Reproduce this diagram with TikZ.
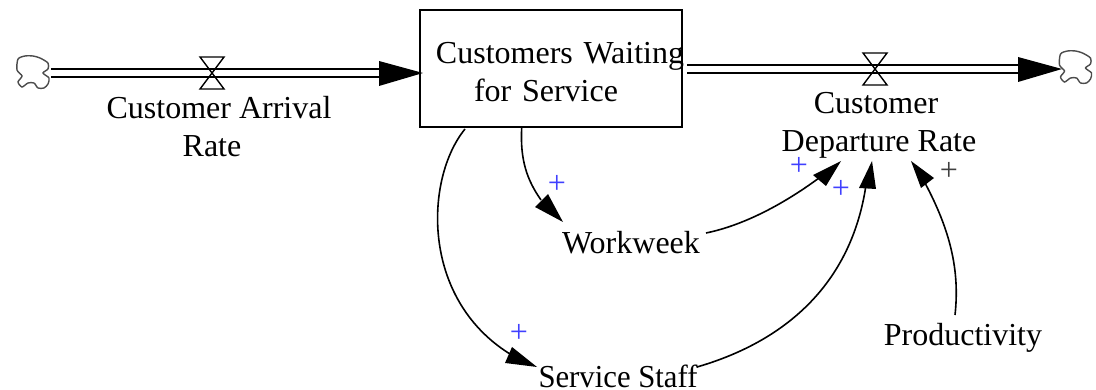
\documentclass[tikz,border=0pt]{standalone}
\usepackage{fontspec}
\setmainfont{Liberation Serif}
\usetikzlibrary{arrows.meta}
\tikzset{
  x=1pt,y=-1pt,
  lbl/.style={font=\fontsize{32}{38}\selectfont,align=center,inner sep=0pt,text=black},
  plus/.style={font=\fontsize{32}{32}\selectfont,inner sep=0pt,text=#1},
  plus/.default={blue!75!white},
  stockbox/.style={draw=black,line width=1.8pt,minimum width=262pt,minimum height=117pt,text width=262pt,inner sep=0pt,align=center,font=\fontsize{32}{38}\selectfont},
  pipe/.style={draw=black,line width=1.6pt},
  valveshape/.style={draw=black,line width=1.4pt},
  cloudline/.style={draw=black!70,line width=1.4pt,fill=white},
  link/.style={draw=black,line width=1.6pt},
  head/.style={fill=black,draw=none},
}
\begin{document}
\begin{tikzpicture}
\useasboundingbox (0,0) rectangle (1096,390);
\fill[white] (0,0) rectangle (1096,390);
\node[stockbox] (stock) at (551,68.5) {\rule{0pt}{28pt}\makebox[0pt]{\hspace{18pt}Customers Waiting}\\\makebox[0pt]{for Service\hspace{10pt}}};
\node[lbl] (arrlbl) at (219,126.5) {Customer Arrival\\Rate\hspace*{14pt}};
\node[lbl] (deplbl) at (879,125) {Customer\hspace*{6pt}\\Departure Rate};
\node[lbl] (work) at (631,243) {Workweek};
\node[lbl] (staff) at (618,376.5) {\scalebox{0.96}[1]{Service Staff}};
\node[lbl] (prod) at (963,338) {Productivity};
\node[plus] (p1) at (557,184) {+};
\node[plus] (p2) at (519,333) {+};
\node[plus] (p3) at (799,166) {+};
\node[plus] (p4) at (841,189) {+};
\node[plus=black!75] (p5) at (949,171) {+};
% clouds
\foreach \n/\cx/\cy in {c1/33/72,c2/1075.5/67}{
  \coordinate (\n) at (\cx,\cy);
  \draw[cloudline,shift={(\n)}] plot[smooth cycle,tension=0.45] coordinates {(-15,-13) (-8,-16) (0,-16) (7,-14) (15,-9) (15,-3) (10,1) (16,6) (15,12) (11,16) (5,16) (1,11) (-5,11) (-11,15) (-15,10) (-11,4) (-16,-2)};
}
% flows
\coordinate (v1) at (212,73);
\coordinate (v2) at (875,69);
\draw[pipe] (51,69) -- (381,69) (51,77) -- (381,77);
\draw[pipe] (687,65) -- (1020,65) (687,73) -- (1020,73);
\fill[head] (379,61) -- (423,73) -- (379,86) -- cycle;
\fill[head] (1018,57) -- (1062,69) -- (1018,82) -- cycle;
\foreach \v in {v1,v2}{
  \draw[valveshape,shift={(\v)}] (-12,-16) -- (12,-16) -- (-12,16) -- (12,16) -- cycle;
}
% links
\coordinate (a1) at (521.7,128);
\draw[link] (a1) .. controls (520,160) and (527,180) .. (541,200);
\fill[head] (563,222) -- (535,207) -- (548,194) -- cycle;
\coordinate (a2) at (465,129);
\draw[link] (a2) .. controls (425,178) and (420,298) .. (510,354);
\fill[head] (537,367) -- (505,363) -- (512,347) -- cycle;
\coordinate (a3) at (706,233);
\draw[link] (a3) .. controls (745,225) and (785,203) .. (819,178);
\fill[head] (841,161) -- (826,186) -- (813,175) -- cycle;
\coordinate (a4) at (697,367);
\draw[link] (a4) .. controls (790,340) and (852,280) .. (866,185);
\fill[head] (872,161) -- (876,189) -- (859,188) -- cycle;
\coordinate (a5) at (955,315);
\draw[link] (a5) .. controls (960,270) and (950,230) .. (925,183);
\fill[head] (911,161) -- (934,178) -- (921,188) -- cycle;
\end{tikzpicture}
\end{document}
